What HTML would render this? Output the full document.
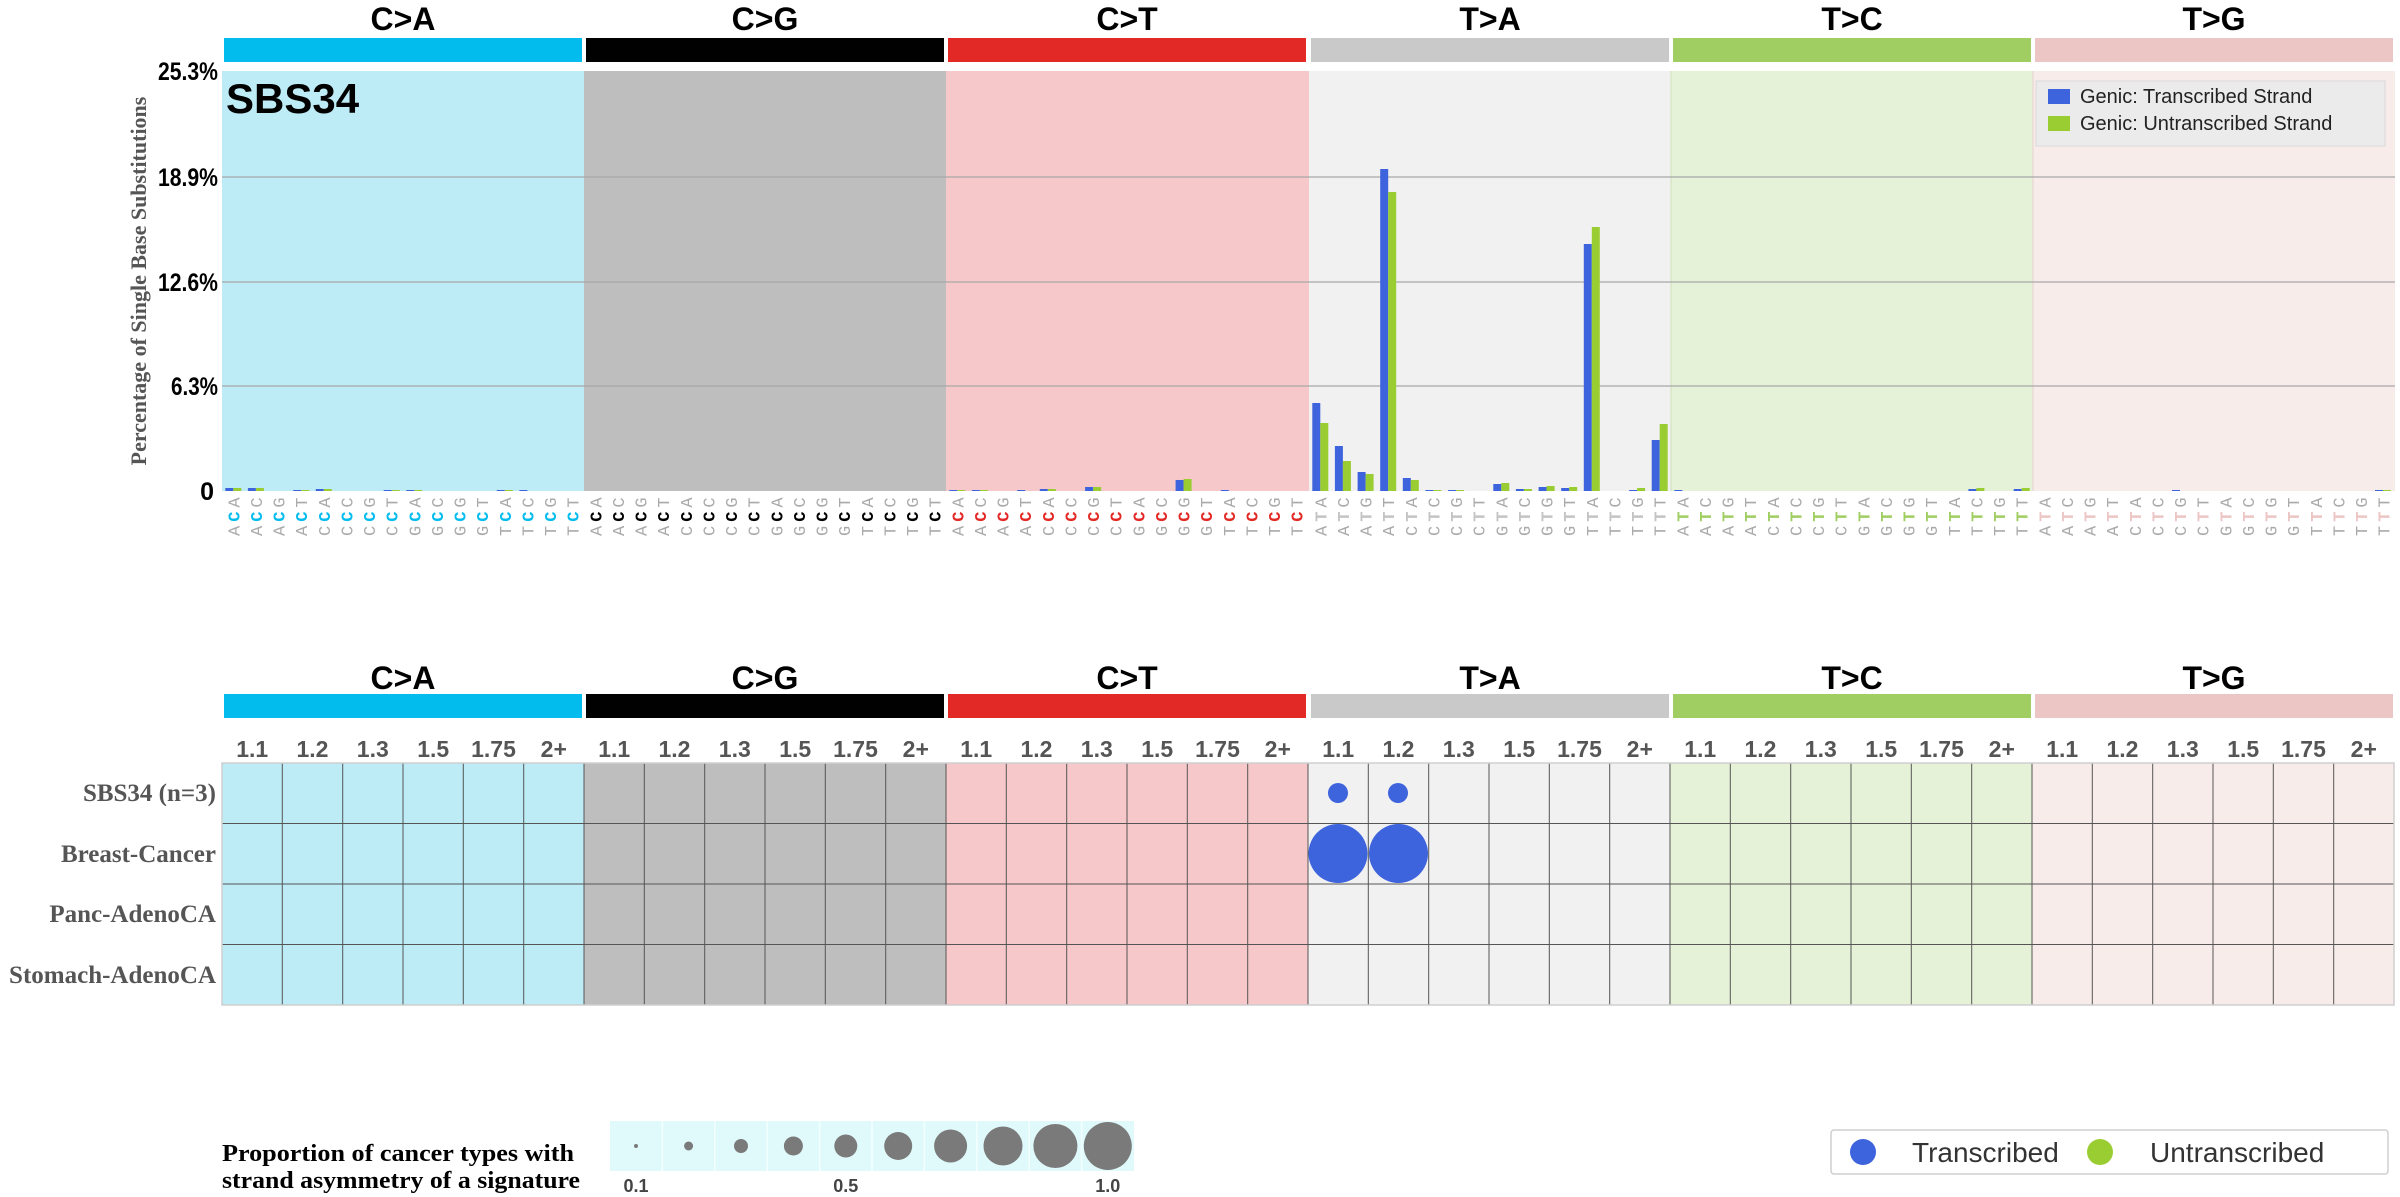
<!DOCTYPE html>
<html><head><meta charset="utf-8"><style>
html,body{margin:0;padding:0;background:#fff}
svg{display:block}
.lab text{font-family:"Liberation Mono",monospace;font-size:17px;fill:#aaa;letter-spacing:4px}
.lab tspan{font-weight:bold}
.hd{font-family:"Liberation Sans",sans-serif;font-weight:bold;font-size:32px;fill:#000;text-anchor:middle}
.yl{font-family:"Liberation Sans Narrow","Liberation Sans",sans-serif;font-weight:bold;font-size:25px;fill:#000;text-anchor:end}
.cl text{font-family:"Liberation Sans",sans-serif;font-weight:bold;font-size:23px;fill:#555;text-anchor:middle}
.rl{font-family:"Liberation Serif",serif;font-weight:bold;font-size:25px;fill:#555;text-anchor:end}
</style></head><body>
<svg width="2400" height="1197" viewBox="0 0 2400 1197" xmlns="http://www.w3.org/2000/svg">
<!-- top header -->
<text class="hd" x="403" y="30">C&gt;A</text>
<text class="hd" x="765" y="30">C&gt;G</text>
<text class="hd" x="1127" y="30">C&gt;T</text>
<text class="hd" x="1490" y="30">T&gt;A</text>
<text class="hd" x="1852" y="30">T&gt;C</text>
<text class="hd" x="2214" y="30">T&gt;G</text>
<rect x="224" y="38" width="358" height="24" fill="#03bcee"/>
<rect x="586" y="38" width="358" height="24" fill="#010101"/>
<rect x="948" y="38" width="358" height="24" fill="#e32926"/>
<rect x="1311" y="38" width="358" height="24" fill="#cac9c9"/>
<rect x="1673" y="38" width="358" height="24" fill="#a1ce63"/>
<rect x="2035" y="38" width="358" height="24" fill="#ebc6c4"/>
<!-- top backgrounds -->
<rect x="222" y="71" width="362" height="420" fill="#bdebf6"/>
<rect x="584" y="71" width="362" height="420" fill="#bebebe"/>
<rect x="946" y="71" width="363" height="420" fill="#f6c8c9"/>
<rect x="1309" y="71" width="362" height="420" fill="#f1f1f1"/>
<rect x="1671" y="71" width="362" height="420" fill="#e5f2d7"/>
<rect x="2033" y="71" width="362" height="420" fill="#f8eceb"/>
<line x1="1671" y1="71" x2="1671" y2="491" stroke="#cfe0bb" stroke-width="1"/>
<line x1="2033" y1="71" x2="2033" y2="491" stroke="#e8d0cf" stroke-width="1"/>
<g stroke="#a8a8a8" stroke-width="1.2">
<line x1="222" y1="177" x2="2395" y2="177"/>
<line x1="222" y1="282" x2="2395" y2="282"/>
<line x1="222" y1="386" x2="2395" y2="386"/>
</g>
<!-- y axis -->
<text class="yl" x="218" y="80" textLength="60" lengthAdjust="spacingAndGlyphs">25.3%</text>
<text class="yl" x="218" y="186" textLength="60" lengthAdjust="spacingAndGlyphs">18.9%</text>
<text class="yl" x="218" y="291" textLength="60" lengthAdjust="spacingAndGlyphs">12.6%</text>
<text class="yl" x="218" y="395" textLength="47" lengthAdjust="spacingAndGlyphs">6.3%</text>
<text class="yl" x="214" y="500">0</text>
<text transform="translate(146,281) rotate(-90)" font-family="Liberation Serif,serif" font-weight="bold" font-size="22" fill="#555" text-anchor="middle">Percentage of Single Base Substitutions</text>
<text x="226" y="113" font-family="Liberation Sans,sans-serif" font-weight="bold" font-size="42" fill="#000">SBS34</text>
<!-- legend top -->
<rect x="2036" y="81" width="349" height="65" fill="#ebebeb" stroke="#d8d8d8"/>
<rect x="2048" y="89" width="22" height="15" fill="#3d63dd"/>
<text x="2080" y="103" font-family="Liberation Sans,sans-serif" font-size="20" fill="#222">Genic: Transcribed Strand</text>
<rect x="2048" y="116" width="22" height="15" fill="#9acd32"/>
<text x="2080" y="130" font-family="Liberation Sans,sans-serif" font-size="20" fill="#222">Genic: Untranscribed Strand</text>
<!-- bars -->
<g fill="#3d63dd">
<rect x="225.3" y="488" width="8" height="3"/><rect x="247.9" y="488" width="8" height="3"/><rect x="293.2" y="490" width="8" height="1"/><rect x="315.8" y="489" width="8" height="2"/><rect x="383.7" y="490" width="8" height="1"/><rect x="406.3" y="490" width="8" height="1"/><rect x="496.8" y="490" width="8" height="1"/><rect x="519.4" y="490" width="8" height="1"/>
<rect x="949.3" y="490" width="8" height="1"/><rect x="971.9" y="490" width="8" height="1"/><rect x="1017.2" y="490" width="8" height="1"/><rect x="1039.8" y="489" width="8" height="2"/><rect x="1085.1" y="487" width="8" height="4"/><rect x="1175.6" y="480" width="8" height="11"/><rect x="1220.8" y="490" width="8" height="1"/>
<rect x="1312.3" y="403" width="8" height="88"/><rect x="1334.9" y="446" width="8" height="45"/><rect x="1357.6" y="472" width="8" height="19"/><rect x="1380.2" y="169" width="8" height="322"/><rect x="1402.8" y="478" width="8" height="13"/><rect x="1425.4" y="490" width="8" height="1"/><rect x="1448.1" y="490" width="8" height="1"/><rect x="1493.3" y="484" width="8" height="7"/><rect x="1515.9" y="489" width="8" height="2"/><rect x="1538.6" y="487" width="8" height="4"/><rect x="1561.2" y="488" width="8" height="3"/><rect x="1583.8" y="244" width="8" height="247"/><rect x="1629.1" y="490" width="8" height="1"/><rect x="1651.7" y="440" width="8" height="51"/>
<rect x="1674.3" y="490" width="8" height="1"/><rect x="1968.4" y="489" width="8" height="2"/><rect x="2013.7" y="489" width="8" height="2"/>
<rect x="2172" y="490" width="8" height="1"/><rect x="2375" y="490" width="8" height="1"/>
</g>
<g fill="#9acd32">
<rect x="233.3" y="488" width="8" height="3"/><rect x="255.9" y="488" width="8" height="3"/><rect x="301.2" y="490" width="8" height="1"/><rect x="323.8" y="489" width="8" height="2"/><rect x="391.7" y="490" width="8" height="1"/><rect x="414.3" y="490" width="8" height="1"/><rect x="504.8" y="490" width="8" height="1"/>
<rect x="957.3" y="490" width="8" height="1"/><rect x="979.9" y="490" width="8" height="1"/><rect x="1047.8" y="489" width="8" height="2"/><rect x="1093.1" y="487" width="8" height="4"/><rect x="1183.6" y="479" width="8" height="12"/>
<rect x="1320.3" y="423" width="8" height="68"/><rect x="1342.9" y="461" width="8" height="30"/><rect x="1365.6" y="474" width="8" height="17"/><rect x="1388.2" y="192" width="8" height="299"/><rect x="1410.8" y="480" width="8" height="11"/><rect x="1433.4" y="490" width="8" height="1"/><rect x="1456.1" y="490" width="8" height="1"/><rect x="1501.3" y="483" width="8" height="8"/><rect x="1523.9" y="489" width="8" height="2"/><rect x="1546.6" y="486" width="8" height="5"/><rect x="1569.2" y="487" width="8" height="4"/><rect x="1591.8" y="227" width="8" height="264"/><rect x="1637.1" y="488" width="8" height="3"/><rect x="1659.7" y="424" width="8" height="67"/>
<rect x="1976.4" y="488" width="8" height="3"/><rect x="2021.7" y="488" width="8" height="3"/>
<rect x="2383" y="490" width="8" height="1"/>
</g>
<!-- labels -->
<g class="lab" transform="translate(228,0)">
<g>
<text transform="translate(11.3,536) rotate(-90)">A<tspan fill="#03bcee">C</tspan>A</text>
<text transform="translate(33.9,536) rotate(-90)">A<tspan fill="#03bcee">C</tspan>C</text>
<text transform="translate(56.6,536) rotate(-90)">A<tspan fill="#03bcee">C</tspan>G</text>
<text transform="translate(79.2,536) rotate(-90)">A<tspan fill="#03bcee">C</tspan>T</text>
<text transform="translate(101.8,536) rotate(-90)">C<tspan fill="#03bcee">C</tspan>A</text>
<text transform="translate(124.4,536) rotate(-90)">C<tspan fill="#03bcee">C</tspan>C</text>
<text transform="translate(147.1,536) rotate(-90)">C<tspan fill="#03bcee">C</tspan>G</text>
<text transform="translate(169.7,536) rotate(-90)">C<tspan fill="#03bcee">C</tspan>T</text>
<text transform="translate(192.3,536) rotate(-90)">G<tspan fill="#03bcee">C</tspan>A</text>
<text transform="translate(214.9,536) rotate(-90)">G<tspan fill="#03bcee">C</tspan>C</text>
<text transform="translate(237.6,536) rotate(-90)">G<tspan fill="#03bcee">C</tspan>G</text>
<text transform="translate(260.2,536) rotate(-90)">G<tspan fill="#03bcee">C</tspan>T</text>
<text transform="translate(282.8,536) rotate(-90)">T<tspan fill="#03bcee">C</tspan>A</text>
<text transform="translate(305.4,536) rotate(-90)">T<tspan fill="#03bcee">C</tspan>C</text>
<text transform="translate(328.1,536) rotate(-90)">T<tspan fill="#03bcee">C</tspan>G</text>
<text transform="translate(350.7,536) rotate(-90)">T<tspan fill="#03bcee">C</tspan>T</text>
</g>
<g transform="translate(362,0)">
<text transform="translate(11.3,536) rotate(-90)">A<tspan fill="#000">C</tspan>A</text>
<text transform="translate(33.9,536) rotate(-90)">A<tspan fill="#000">C</tspan>C</text>
<text transform="translate(56.6,536) rotate(-90)">A<tspan fill="#000">C</tspan>G</text>
<text transform="translate(79.2,536) rotate(-90)">A<tspan fill="#000">C</tspan>T</text>
<text transform="translate(101.8,536) rotate(-90)">C<tspan fill="#000">C</tspan>A</text>
<text transform="translate(124.4,536) rotate(-90)">C<tspan fill="#000">C</tspan>C</text>
<text transform="translate(147.1,536) rotate(-90)">C<tspan fill="#000">C</tspan>G</text>
<text transform="translate(169.7,536) rotate(-90)">C<tspan fill="#000">C</tspan>T</text>
<text transform="translate(192.3,536) rotate(-90)">G<tspan fill="#000">C</tspan>A</text>
<text transform="translate(214.9,536) rotate(-90)">G<tspan fill="#000">C</tspan>C</text>
<text transform="translate(237.6,536) rotate(-90)">G<tspan fill="#000">C</tspan>G</text>
<text transform="translate(260.2,536) rotate(-90)">G<tspan fill="#000">C</tspan>T</text>
<text transform="translate(282.8,536) rotate(-90)">T<tspan fill="#000">C</tspan>A</text>
<text transform="translate(305.4,536) rotate(-90)">T<tspan fill="#000">C</tspan>C</text>
<text transform="translate(328.1,536) rotate(-90)">T<tspan fill="#000">C</tspan>G</text>
<text transform="translate(350.7,536) rotate(-90)">T<tspan fill="#000">C</tspan>T</text>
</g>
<g transform="translate(724,0)">
<text transform="translate(11.3,536) rotate(-90)">A<tspan fill="#e32926">C</tspan>A</text>
<text transform="translate(33.9,536) rotate(-90)">A<tspan fill="#e32926">C</tspan>C</text>
<text transform="translate(56.6,536) rotate(-90)">A<tspan fill="#e32926">C</tspan>G</text>
<text transform="translate(79.2,536) rotate(-90)">A<tspan fill="#e32926">C</tspan>T</text>
<text transform="translate(101.8,536) rotate(-90)">C<tspan fill="#e32926">C</tspan>A</text>
<text transform="translate(124.4,536) rotate(-90)">C<tspan fill="#e32926">C</tspan>C</text>
<text transform="translate(147.1,536) rotate(-90)">C<tspan fill="#e32926">C</tspan>G</text>
<text transform="translate(169.7,536) rotate(-90)">C<tspan fill="#e32926">C</tspan>T</text>
<text transform="translate(192.3,536) rotate(-90)">G<tspan fill="#e32926">C</tspan>A</text>
<text transform="translate(214.9,536) rotate(-90)">G<tspan fill="#e32926">C</tspan>C</text>
<text transform="translate(237.6,536) rotate(-90)">G<tspan fill="#e32926">C</tspan>G</text>
<text transform="translate(260.2,536) rotate(-90)">G<tspan fill="#e32926">C</tspan>T</text>
<text transform="translate(282.8,536) rotate(-90)">T<tspan fill="#e32926">C</tspan>A</text>
<text transform="translate(305.4,536) rotate(-90)">T<tspan fill="#e32926">C</tspan>C</text>
<text transform="translate(328.1,536) rotate(-90)">T<tspan fill="#e32926">C</tspan>G</text>
<text transform="translate(350.7,536) rotate(-90)">T<tspan fill="#e32926">C</tspan>T</text>
</g>
<g transform="translate(1087,0)">
<text transform="translate(11.3,536) rotate(-90)">A<tspan fill="#c4c4c4">T</tspan>A</text>
<text transform="translate(33.9,536) rotate(-90)">A<tspan fill="#c4c4c4">T</tspan>C</text>
<text transform="translate(56.6,536) rotate(-90)">A<tspan fill="#c4c4c4">T</tspan>G</text>
<text transform="translate(79.2,536) rotate(-90)">A<tspan fill="#c4c4c4">T</tspan>T</text>
<text transform="translate(101.8,536) rotate(-90)">C<tspan fill="#c4c4c4">T</tspan>A</text>
<text transform="translate(124.4,536) rotate(-90)">C<tspan fill="#c4c4c4">T</tspan>C</text>
<text transform="translate(147.1,536) rotate(-90)">C<tspan fill="#c4c4c4">T</tspan>G</text>
<text transform="translate(169.7,536) rotate(-90)">C<tspan fill="#c4c4c4">T</tspan>T</text>
<text transform="translate(192.3,536) rotate(-90)">G<tspan fill="#c4c4c4">T</tspan>A</text>
<text transform="translate(214.9,536) rotate(-90)">G<tspan fill="#c4c4c4">T</tspan>C</text>
<text transform="translate(237.6,536) rotate(-90)">G<tspan fill="#c4c4c4">T</tspan>G</text>
<text transform="translate(260.2,536) rotate(-90)">G<tspan fill="#c4c4c4">T</tspan>T</text>
<text transform="translate(282.8,536) rotate(-90)">T<tspan fill="#c4c4c4">T</tspan>A</text>
<text transform="translate(305.4,536) rotate(-90)">T<tspan fill="#c4c4c4">T</tspan>C</text>
<text transform="translate(328.1,536) rotate(-90)">T<tspan fill="#c4c4c4">T</tspan>G</text>
<text transform="translate(350.7,536) rotate(-90)">T<tspan fill="#c4c4c4">T</tspan>T</text>
</g>
<g transform="translate(1449,0)">
<text transform="translate(11.3,536) rotate(-90)">A<tspan fill="#a1ce63">T</tspan>A</text>
<text transform="translate(33.9,536) rotate(-90)">A<tspan fill="#a1ce63">T</tspan>C</text>
<text transform="translate(56.6,536) rotate(-90)">A<tspan fill="#a1ce63">T</tspan>G</text>
<text transform="translate(79.2,536) rotate(-90)">A<tspan fill="#a1ce63">T</tspan>T</text>
<text transform="translate(101.8,536) rotate(-90)">C<tspan fill="#a1ce63">T</tspan>A</text>
<text transform="translate(124.4,536) rotate(-90)">C<tspan fill="#a1ce63">T</tspan>C</text>
<text transform="translate(147.1,536) rotate(-90)">C<tspan fill="#a1ce63">T</tspan>G</text>
<text transform="translate(169.7,536) rotate(-90)">C<tspan fill="#a1ce63">T</tspan>T</text>
<text transform="translate(192.3,536) rotate(-90)">G<tspan fill="#a1ce63">T</tspan>A</text>
<text transform="translate(214.9,536) rotate(-90)">G<tspan fill="#a1ce63">T</tspan>C</text>
<text transform="translate(237.6,536) rotate(-90)">G<tspan fill="#a1ce63">T</tspan>G</text>
<text transform="translate(260.2,536) rotate(-90)">G<tspan fill="#a1ce63">T</tspan>T</text>
<text transform="translate(282.8,536) rotate(-90)">T<tspan fill="#a1ce63">T</tspan>A</text>
<text transform="translate(305.4,536) rotate(-90)">T<tspan fill="#a1ce63">T</tspan>C</text>
<text transform="translate(328.1,536) rotate(-90)">T<tspan fill="#a1ce63">T</tspan>G</text>
<text transform="translate(350.7,536) rotate(-90)">T<tspan fill="#a1ce63">T</tspan>T</text>
</g>
<g transform="translate(1811,0)">
<text transform="translate(11.3,536) rotate(-90)">A<tspan fill="#ebc6c4">T</tspan>A</text>
<text transform="translate(33.9,536) rotate(-90)">A<tspan fill="#ebc6c4">T</tspan>C</text>
<text transform="translate(56.6,536) rotate(-90)">A<tspan fill="#ebc6c4">T</tspan>G</text>
<text transform="translate(79.2,536) rotate(-90)">A<tspan fill="#ebc6c4">T</tspan>T</text>
<text transform="translate(101.8,536) rotate(-90)">C<tspan fill="#ebc6c4">T</tspan>A</text>
<text transform="translate(124.4,536) rotate(-90)">C<tspan fill="#ebc6c4">T</tspan>C</text>
<text transform="translate(147.1,536) rotate(-90)">C<tspan fill="#ebc6c4">T</tspan>G</text>
<text transform="translate(169.7,536) rotate(-90)">C<tspan fill="#ebc6c4">T</tspan>T</text>
<text transform="translate(192.3,536) rotate(-90)">G<tspan fill="#ebc6c4">T</tspan>A</text>
<text transform="translate(214.9,536) rotate(-90)">G<tspan fill="#ebc6c4">T</tspan>C</text>
<text transform="translate(237.6,536) rotate(-90)">G<tspan fill="#ebc6c4">T</tspan>G</text>
<text transform="translate(260.2,536) rotate(-90)">G<tspan fill="#ebc6c4">T</tspan>T</text>
<text transform="translate(282.8,536) rotate(-90)">T<tspan fill="#ebc6c4">T</tspan>A</text>
<text transform="translate(305.4,536) rotate(-90)">T<tspan fill="#ebc6c4">T</tspan>C</text>
<text transform="translate(328.1,536) rotate(-90)">T<tspan fill="#ebc6c4">T</tspan>G</text>
<text transform="translate(350.7,536) rotate(-90)">T<tspan fill="#ebc6c4">T</tspan>T</text>
</g>
</g>

<!-- bottom panel -->
<text class="hd" x="403" y="689">C&gt;A</text>
<text class="hd" x="765" y="689">C&gt;G</text>
<text class="hd" x="1127" y="689">C&gt;T</text>
<text class="hd" x="1490" y="689">T&gt;A</text>
<text class="hd" x="1852" y="689">T&gt;C</text>
<text class="hd" x="2214" y="689">T&gt;G</text>
<rect x="224" y="694" width="358" height="24" fill="#03bcee"/>
<rect x="586" y="694" width="358" height="24" fill="#010101"/>
<rect x="948" y="694" width="358" height="24" fill="#e32926"/>
<rect x="1311" y="694" width="358" height="24" fill="#cac9c9"/>
<rect x="1673" y="694" width="358" height="24" fill="#a1ce63"/>
<rect x="2035" y="694" width="358" height="24" fill="#ebc6c4"/>
<g class="cl">
<g transform="translate(222,757)"><text x="30.2">1.1</text><text x="90.5">1.2</text><text x="150.8">1.3</text><text x="211.2">1.5</text><text x="271.5">1.75</text><text x="331.8">2+</text></g>
<g transform="translate(584,757)"><text x="30.2">1.1</text><text x="90.5">1.2</text><text x="150.8">1.3</text><text x="211.2">1.5</text><text x="271.5">1.75</text><text x="331.8">2+</text></g>
<g transform="translate(946,757)"><text x="30.2">1.1</text><text x="90.5">1.2</text><text x="150.8">1.3</text><text x="211.2">1.5</text><text x="271.5">1.75</text><text x="331.8">2+</text></g>
<g transform="translate(1308,757)"><text x="30.2">1.1</text><text x="90.5">1.2</text><text x="150.8">1.3</text><text x="211.2">1.5</text><text x="271.5">1.75</text><text x="331.8">2+</text></g>
<g transform="translate(1670,757)"><text x="30.2">1.1</text><text x="90.5">1.2</text><text x="150.8">1.3</text><text x="211.2">1.5</text><text x="271.5">1.75</text><text x="331.8">2+</text></g>
<g transform="translate(2032,757)"><text x="30.2">1.1</text><text x="90.5">1.2</text><text x="150.8">1.3</text><text x="211.2">1.5</text><text x="271.5">1.75</text><text x="331.8">2+</text></g>
</g>
<rect x="222" y="763" width="362" height="242" fill="#bdebf6"/>
<rect x="584" y="763" width="362" height="242" fill="#bebebe"/>
<rect x="946" y="763" width="362" height="242" fill="#f6c8c9"/>
<rect x="1308" y="763" width="362" height="242" fill="#f1f1f1"/>
<rect x="1670" y="763" width="362" height="242" fill="#e5f2d7"/>
<rect x="2032" y="763" width="362" height="242" fill="#f8eceb"/>
<g stroke="#555" stroke-width="1">
<line x1="222" y1="823.5" x2="2394" y2="823.5"/>
<line x1="222" y1="884" x2="2394" y2="884"/>
<line x1="222" y1="944.5" x2="2394" y2="944.5"/>
<line x1="282.3" y1="763" x2="282.3" y2="1005"/><line x1="342.7" y1="763" x2="342.7" y2="1005"/><line x1="403" y1="763" x2="403" y2="1005"/><line x1="463.3" y1="763" x2="463.3" y2="1005"/><line x1="523.7" y1="763" x2="523.7" y2="1005"/><line x1="584" y1="763" x2="584" y2="1005"/>
<line x1="644.3" y1="763" x2="644.3" y2="1005"/><line x1="704.7" y1="763" x2="704.7" y2="1005"/><line x1="765" y1="763" x2="765" y2="1005"/><line x1="825.3" y1="763" x2="825.3" y2="1005"/><line x1="885.7" y1="763" x2="885.7" y2="1005"/><line x1="946" y1="763" x2="946" y2="1005"/>
<line x1="1006.3" y1="763" x2="1006.3" y2="1005"/><line x1="1066.7" y1="763" x2="1066.7" y2="1005"/><line x1="1127" y1="763" x2="1127" y2="1005"/><line x1="1187.3" y1="763" x2="1187.3" y2="1005"/><line x1="1247.7" y1="763" x2="1247.7" y2="1005"/><line x1="1308" y1="763" x2="1308" y2="1005"/>
<line x1="1368.3" y1="763" x2="1368.3" y2="1005"/><line x1="1428.7" y1="763" x2="1428.7" y2="1005"/><line x1="1489" y1="763" x2="1489" y2="1005"/><line x1="1549.3" y1="763" x2="1549.3" y2="1005"/><line x1="1609.7" y1="763" x2="1609.7" y2="1005"/><line x1="1670" y1="763" x2="1670" y2="1005"/>
<line x1="1730.3" y1="763" x2="1730.3" y2="1005"/><line x1="1790.7" y1="763" x2="1790.7" y2="1005"/><line x1="1851" y1="763" x2="1851" y2="1005"/><line x1="1911.3" y1="763" x2="1911.3" y2="1005"/><line x1="1971.7" y1="763" x2="1971.7" y2="1005"/><line x1="2032" y1="763" x2="2032" y2="1005"/>
<line x1="2092.3" y1="763" x2="2092.3" y2="1005"/><line x1="2152.7" y1="763" x2="2152.7" y2="1005"/><line x1="2213" y1="763" x2="2213" y2="1005"/><line x1="2273.3" y1="763" x2="2273.3" y2="1005"/><line x1="2333.7" y1="763" x2="2333.7" y2="1005"/>
</g>
<rect x="222" y="763" width="2172" height="242" fill="none" stroke="#cfcfcf" stroke-width="1.5"/>
<circle cx="1338" cy="793" r="10" fill="#3d63dd"/>
<circle cx="1398" cy="793" r="10" fill="#3d63dd"/>
<circle cx="1338" cy="853.5" r="29.5" fill="#3d63dd"/>
<circle cx="1398.5" cy="853.5" r="29.5" fill="#3d63dd"/>
<text class="rl" x="216" y="801">SBS34 (n=3)</text>
<text class="rl" x="216" y="862">Breast-Cancer</text>
<text class="rl" x="216" y="922">Panc-AdenoCA</text>
<text class="rl" x="216" y="983">Stomach-AdenoCA</text>

<!-- bottom legend -->
<text x="222" y="1161" font-family="Liberation Serif,serif" font-weight="bold" font-size="24" fill="#000" textLength="352" lengthAdjust="spacingAndGlyphs">Proportion of cancer types with</text>
<text x="222" y="1188" font-family="Liberation Serif,serif" font-weight="bold" font-size="24" fill="#000" textLength="358" lengthAdjust="spacingAndGlyphs">strand asymmetry of a signature</text>
<rect x="610" y="1121" width="524" height="50" fill="#e0fafb"/>
<g stroke="#f4ffff" stroke-width="1.5"><line x1="662.4" y1="1121" x2="662.4" y2="1171"/><line x1="714.8" y1="1121" x2="714.8" y2="1171"/><line x1="767.2" y1="1121" x2="767.2" y2="1171"/><line x1="819.6" y1="1121" x2="819.6" y2="1171"/><line x1="872" y1="1121" x2="872" y2="1171"/><line x1="924.4" y1="1121" x2="924.4" y2="1171"/><line x1="976.8" y1="1121" x2="976.8" y2="1171"/><line x1="1029.2" y1="1121" x2="1029.2" y2="1171"/><line x1="1081.6" y1="1121" x2="1081.6" y2="1171"/></g>
<g fill="#7a7a7a">
<circle cx="636" cy="1146" r="2"/><circle cx="688.6" cy="1146" r="4.5"/><circle cx="741" cy="1146" r="7"/><circle cx="793.4" cy="1146" r="9.5"/><circle cx="845.8" cy="1146" r="11.5"/><circle cx="898.2" cy="1146" r="14"/><circle cx="950.6" cy="1146" r="16.5"/><circle cx="1003" cy="1146" r="19.5"/><circle cx="1055.4" cy="1146" r="22"/><circle cx="1107.8" cy="1146" r="24"/>
</g>
<g font-family="Liberation Sans Narrow,Liberation Sans,sans-serif" font-weight="bold" font-size="18" fill="#444" text-anchor="middle">
<text x="636" y="1192">0.1</text><text x="845.8" y="1192">0.5</text><text x="1107.8" y="1192">1.0</text>
</g>
<rect x="1831" y="1130" width="557" height="44" rx="3" fill="#fff" stroke="#cfcfcf" stroke-width="1.5"/>
<circle cx="1863" cy="1152" r="13" fill="#3d63dd"/>
<text x="1912" y="1162" font-family="Liberation Sans,sans-serif" font-size="28" fill="#333">Transcribed</text>
<circle cx="2100" cy="1152" r="13" fill="#9acd32"/>
<text x="2150" y="1162" font-family="Liberation Sans,sans-serif" font-size="28" fill="#333">Untranscribed</text>
</svg>
</body></html>
